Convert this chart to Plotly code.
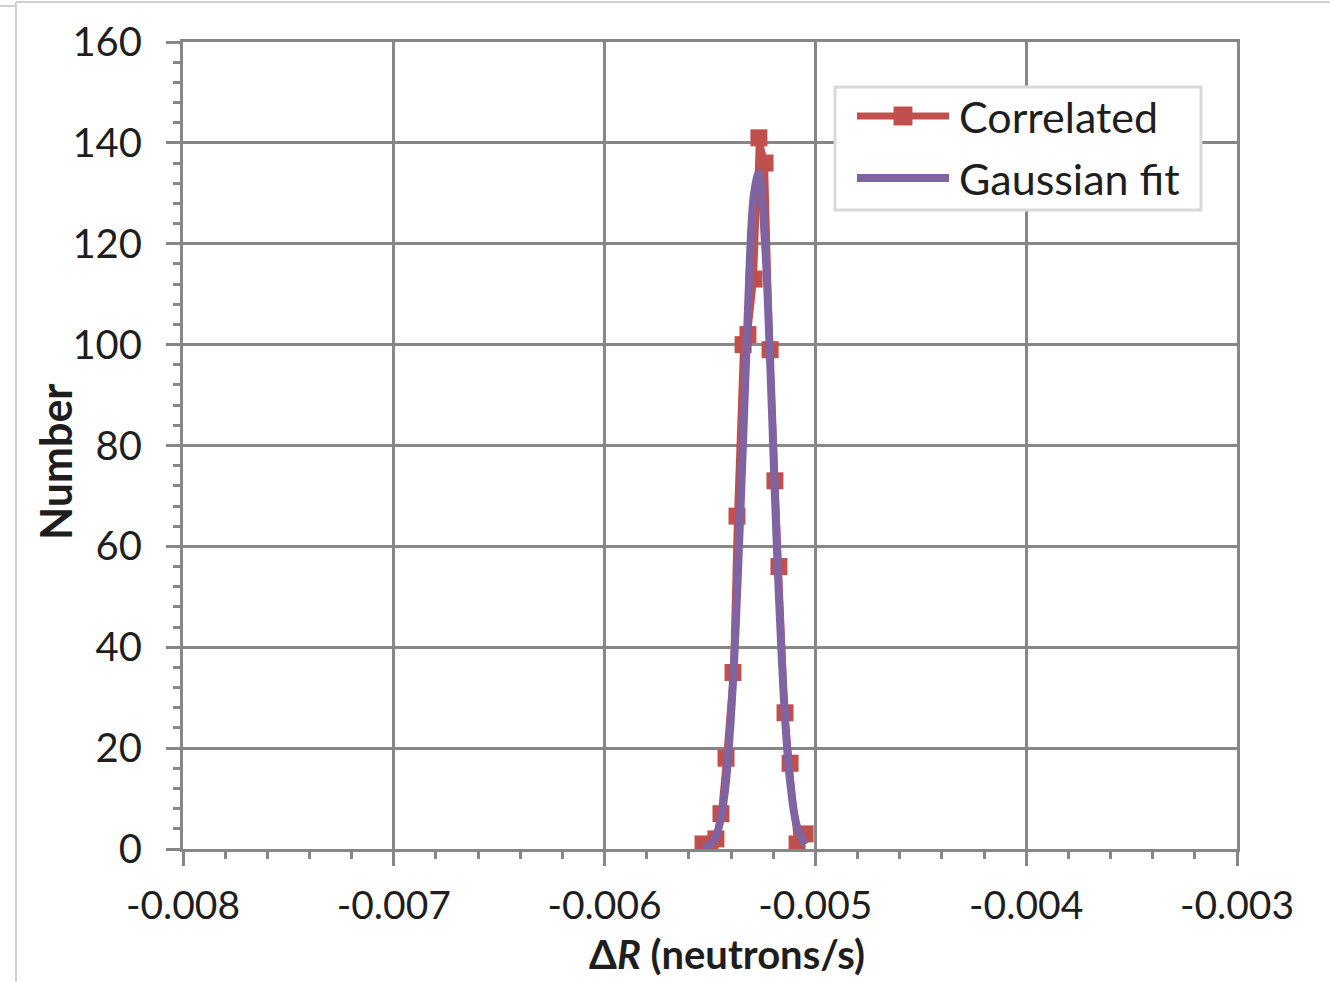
import plotly.graph_objects as go

# Correlated histogram (bin centres, counts)
corr_x = [-0.005533, -0.005500, -0.005472, -0.005448, -0.005424, -0.005391,
          -0.005372, -0.005343, -0.005320, -0.005291, -0.005268, -0.005239,
          -0.005215, -0.005192, -0.005173, -0.005144, -0.005120, -0.005087,
          -0.005049]
corr_y = [1, 0, 2, 7, 18, 35, 66, 100, 102, 113, 141, 136, 99, 73, 56, 27, 17, 1, 3]

# Gaussian fit at the same positions
fit_x = corr_x
fit_y = [0.2, 0.8, 2.5, 6.2, 13.4, 33, 50, 81, 107, 130, 134, 120, 97, 70, 50, 26, 13.4, 4.4, 0.9]

series_names = ["Correlated", "Gaussian fit"]
x_ticks = [-0.008, -0.007, -0.006, -0.005, -0.004, -0.003]
x_tick_text = ["-0.008", "-0.007", "-0.006", "-0.005", "-0.004", "-0.003"]
y_ticks = [0, 20, 40, 60, 80, 100, 120, 140, 160]
x_title = "<b>Δ<i>R</i> (neutrons/s)</b>"
y_title = "<b>Number</b>"

RED = "#C0504D"
PURPLE = "#8064A2"
GRID = "#878787"
FONT = "Lato"
TXT = "#1E1E1E"

W, H = 1330, 982
L, R, T, B = 183, 1237, 42, 849

def px(xp):
    return (xp - L) / (R - L)

def py(yp):
    return (B - yp) / (B - T)

fig = go.Figure()
fig.add_trace(go.Scatter(x=corr_x, y=corr_y, mode="lines+markers", name=series_names[0],
                         line=dict(color=RED, width=6),
                         marker=dict(symbol="square", size=17, color=RED),
                         showlegend=False))
fig.add_trace(go.Scatter(x=fit_x, y=fit_y, mode="lines", name=series_names[1],
                         line=dict(color=PURPLE, width=8, shape="spline", smoothing=1),
                         showlegend=False))

axis_common = dict(showline=True, linecolor=GRID, linewidth=3, mirror=True,
                   showgrid=True, gridcolor=GRID, gridwidth=3, zeroline=False,
                   ticks="outside", tickcolor=GRID, tickwidth=3, ticklen=14)

fig.update_xaxes(range=[-0.008, -0.003], tickvals=x_ticks, ticktext=x_tick_text,
                 minor=dict(dtick=0.0002, ticks="outside", ticklen=7, tickcolor=GRID,
                            tickwidth=3, showgrid=False),
                 tickfont=dict(family=FONT, size=39, color=TXT),
                 ticklabelstandoff=6, **axis_common)
fig.update_yaxes(range=[0, 160], tickvals=y_ticks,
                 minor=dict(dtick=4, ticks="outside", ticklen=7, tickcolor=GRID,
                            tickwidth=3, showgrid=False),
                 tickfont=dict(family=FONT, size=40, color=TXT),
                 ticklabelstandoff=16, **axis_common)

shapes = []
# outer chart frame
shapes.append(dict(type="line", xref="paper", yref="paper", x0=px(16), x1=px(1335),
                   y0=py(2), y1=py(2), line=dict(color="#D0D0D0", width=2)))
shapes.append(dict(type="line", xref="paper", yref="paper", x0=px(16), x1=px(16),
                   y0=py(2), y1=py(990), line=dict(color="#D0D0D0", width=2)))
shapes.append(dict(type="line", xref="paper", yref="paper", x0=px(0), x1=px(16),
                   y0=py(6), y1=py(6), line=dict(color="#D0D0D0", width=2)))
# legend box
shapes.append(dict(type="rect", xref="paper", yref="paper", x0=px(835), x1=px(1201),
                   y0=py(210), y1=py(87), fillcolor="white",
                   line=dict(color="#D9D9D9", width=3), layer="above"))
shapes.append(dict(type="line", xref="paper", yref="paper", x0=px(857), x1=px(949),
                   y0=py(116), y1=py(116), line=dict(color=RED, width=7), layer="above"))
shapes.append(dict(type="rect", xref="paper", yref="paper", x0=px(894), x1=px(912),
                   y0=py(125), y1=py(107), fillcolor=RED, line=dict(color=RED, width=1),
                   layer="above"))
shapes.append(dict(type="line", xref="paper", yref="paper", x0=px(857), x1=px(949),
                   y0=py(178), y1=py(178), line=dict(color=PURPLE, width=8), layer="above"))

annotations = [
    dict(xref="paper", yref="paper", x=px(957), y=py(116), text=series_names[0],
         showarrow=False, xanchor="left", yanchor="middle",
         font=dict(family=FONT, size=43, color=TXT)),
    dict(xref="paper", yref="paper", x=px(957), y=py(178), text=series_names[1],
         showarrow=False, xanchor="left", yanchor="middle",
         font=dict(family=FONT, size=43, color=TXT)),
    dict(xref="paper", yref="paper", x=px(727), y=py(954), text=x_title,
         showarrow=False, xanchor="center", yanchor="middle",
         font=dict(family=FONT, size=40, color=TXT)),
    dict(xref="paper", yref="paper", x=px(55), y=py(462), text=y_title, textangle=-90,
         showarrow=False, xanchor="center", yanchor="middle",
         font=dict(family=FONT, size=43, color=TXT)),
]

fig.update_layout(width=W, height=H, margin=dict(l=L, r=W - R, t=T, b=H - B),
                  paper_bgcolor="white", plot_bgcolor="white",
                  shapes=shapes, annotations=annotations, showlegend=False)

fig.write_html("out.html")
